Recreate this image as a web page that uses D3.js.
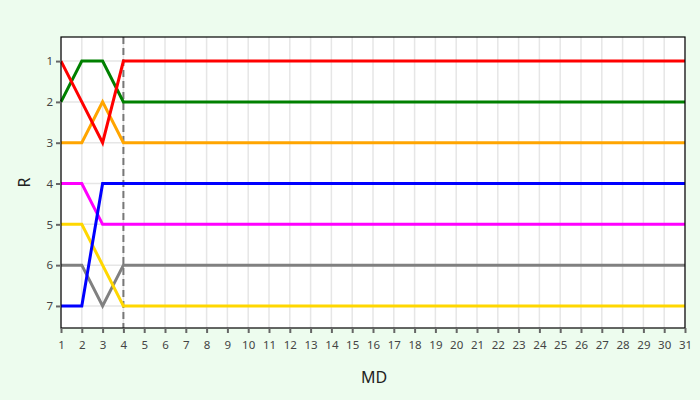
<!DOCTYPE html>
<html><head><meta charset="utf-8">
<script src="https://cdn.jsdelivr.net/npm/d3@7"></script>
<style>body{margin:0;background:#edfcee;}svg{display:block;font-family:"Noto Sans",sans-serif;}</style>
</head><body><svg id="c" width="700" height="400"></svg>
<script>
const days = d3.range(1, 32);
const seriesNames = ["gray","gold","magenta","blue","orange","green","red"];
const seriesColors = ["#808080","#ffd700","#ff00ff","#0000ff","#ffa500","#008000","#ff0000"];
const seriesStart = [
  [6,6,7,6],
  [5,5,6,7],
  [4,4,5,5],
  [7,7,4,4],
  [3,3,2,3],
  [2,1,1,2],
  [1,2,3,1]
];
const finalRank = [6,7,5,4,3,2,1];
const seriesValues = seriesStart.map((s,i)=>days.map((d,j)=> j < s.length ? s[j] : finalRank[i]));
const yTicks = [1,2,3,4,5,6,7];
const markerDay = 4;

const svg = d3.select("#c");
const L=61,R=685,T=37,B=328;
const x = d3.scaleLinear().domain([1,31]).range([L,R]);
const y = d3.scaleLinear().domain([0.41,7.54]).range([T,B]);

svg.append("rect").attr("x",L).attr("y",T).attr("width",R-L).attr("height",B-T).attr("fill","#fff");
// grid
svg.append("g").selectAll("line").data(days).join("line")
  .attr("x1",d=>x(d)).attr("x2",d=>x(d)).attr("y1",T).attr("y2",B)
  .attr("stroke","#e6e6e6").attr("stroke-width",1.5);
svg.append("g").selectAll("line").data(yTicks).join("line")
  .attr("y1",d=>y(d)).attr("y2",d=>y(d)).attr("x1",L).attr("x2",R)
  .attr("stroke","#e6e6e6").attr("stroke-width",1.5);

// dashed marker
svg.append("line").attr("x1",x(markerDay)).attr("x2",x(markerDay)).attr("y1",T).attr("y2",B)
  .attr("stroke","#777").attr("stroke-width",2).attr("stroke-dasharray","7,4");

const line = d3.line().x((d,i)=>x(days[i])).y(d=>y(d));
svg.append("g").selectAll("path").data(seriesValues).join("path")
  .attr("d",line).attr("fill","none").attr("stroke",(d,i)=>seriesColors[i])
  .attr("stroke-width",3).attr("stroke-linejoin","miter");

svg.append("rect").attr("x",L).attr("y",T).attr("width",R-L).attr("height",B-T)
  .attr("fill","none").attr("stroke","#000").attr("stroke-width",1.2);

const xAxis = svg.append("g").attr("transform",`translate(0,${B})`)
  .call(d3.axisBottom(x).tickValues(days).tickFormat(d3.format("d")).tickSize(5).tickSizeOuter(0));
const yAxis = svg.append("g").attr("transform",`translate(${L},0)`)
  .call(d3.axisLeft(y).tickValues(yTicks).tickFormat(d3.format("d")).tickSize(5).tickSizeOuter(0));
[xAxis,yAxis].forEach(g=>{
  g.select(".domain").remove();
  g.selectAll(".tick line").attr("stroke","#666").attr("stroke-width",2);
  g.selectAll(".tick text").attr("fill","#444").style("font-size","11.5px").style("font-family","'Noto Sans',sans-serif");
});
xAxis.selectAll(".tick text").attr("dy","1.1em");

svg.append("text").attr("x",374).attr("y",383).attr("text-anchor","middle")
  .attr("fill","#222").style("font-size","16px").text("MD");
svg.append("text").attr("transform",`translate(30,${(T+B)/2}) rotate(-90)`).attr("text-anchor","middle")
  .attr("fill","#222").style("font-size","16px").text("R");
</script></body></html>
